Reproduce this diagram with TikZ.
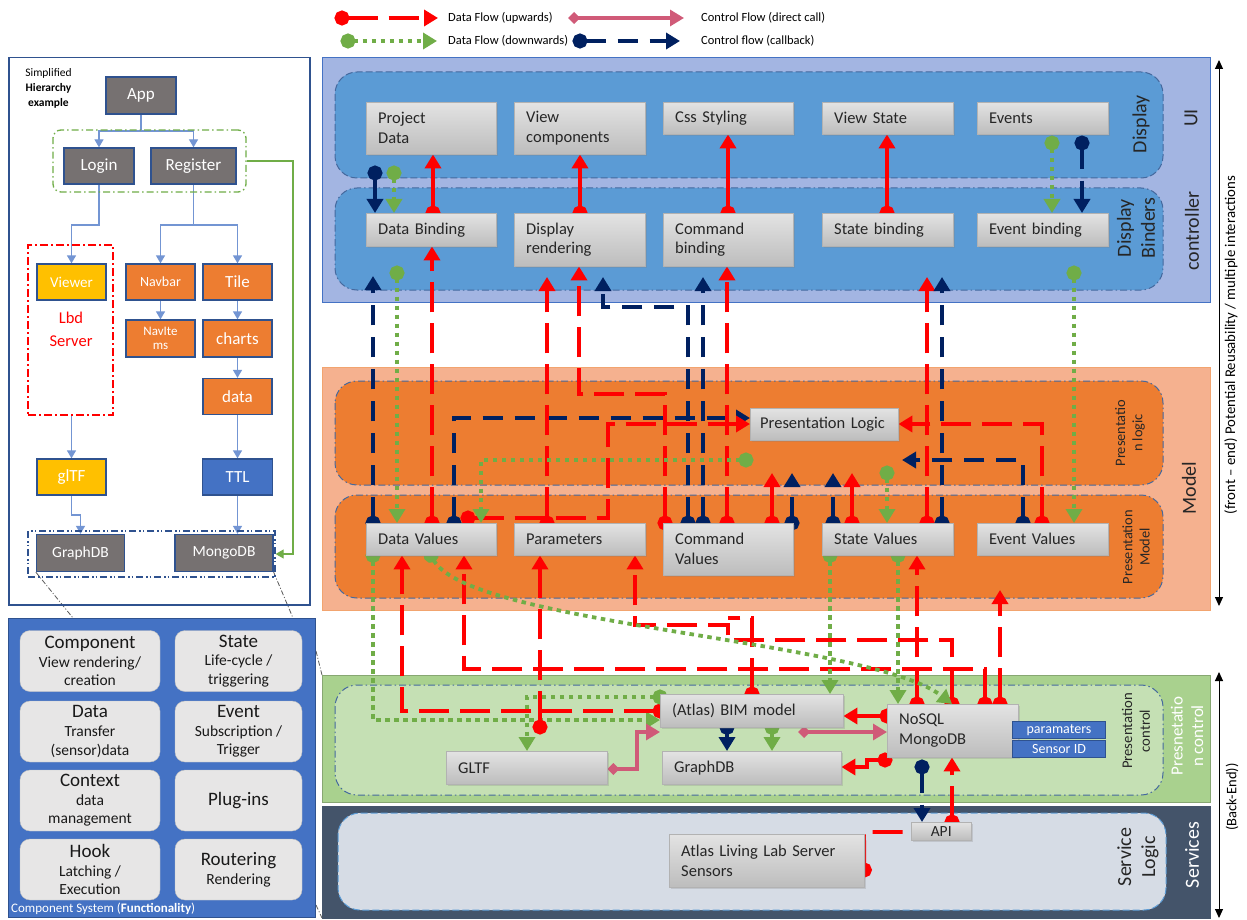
\documentclass[tikz,border=0pt]{standalone}
\usepackage{fontspec}
\setmainfont{Carlito}
\usetikzlibrary{arrows.meta,shadows}
\pgfdeclarelayer{bg}
\pgfdeclarelayer{conn}
\pgfsetlayers{bg,conn,main}
\newcommand{\fsz}[1]{\fontsize{#1pt}{1.2\dimexpr#1pt\relax}\selectfont}
\definecolor{cRed}{HTML}{FF0000}
\definecolor{cNavy}{HTML}{002060}
\definecolor{cGreen}{HTML}{70AD47}
\definecolor{cPink}{HTML}{D05A78}
\definecolor{uiOut}{HTML}{A3B5E2}
\definecolor{uiLane}{HTML}{5B9BD5}
\definecolor{mdOut}{HTML}{F5B18F}
\definecolor{mdLane}{HTML}{ED7D31}
\definecolor{pcOut}{HTML}{A9D18E}
\definecolor{pcIn}{HTML}{C5E0B4}
\definecolor{svOut}{HTML}{44546A}
\definecolor{svIn}{HTML}{D6DCE5}
\definecolor{hBlue}{HTML}{4472C4}
\definecolor{hDark}{HTML}{2F528F}
\definecolor{hGray}{HTML}{767171}
\definecolor{hYellow}{HTML}{FFC000}
\definecolor{csBox}{HTML}{E7E6E6}
\definecolor{laneBorder}{HTML}{45699E}
\begin{document}
\begin{tikzpicture}[x=1pt,y=-1pt,
 fUp/.style={draw=cRed, line width=3.8pt, dash pattern=on 30pt off 11pt, {Circle[length=15pt]}-{Triangle[length=14pt,width=16pt]}, shorten <=-7.5pt},
 fDown/.style={draw=cGreen, line width=3.8pt, dash pattern=on 4.5pt off 4.5pt, {Circle[length=15pt]}-{Triangle[length=14pt,width=16pt]}, shorten <=-7.5pt},
 fCb/.style={draw=cNavy, line width=3.8pt, dash pattern=on 20pt off 12pt, {Circle[length=15pt]}-{Triangle[length=14pt,width=16pt]}, shorten <=-7.5pt},
 fDc/.style={draw=cPink, line width=3.2pt, {Diamond[length=12pt,width=12pt]}-{Triangle[length=14pt,width=16pt]}},
 gbox/.style 2 args={draw=black!30, top color=black!11, bottom color=black!26, anchor=north west, inner xsep=12pt, inner ysep=1pt, text width=#1pt, minimum height=#2pt, align=left, font=\fsz{16.5}, text=black!85, drop shadow={opacity=0.25, shadow xshift=1.5pt, shadow yshift=-1.5pt}},
 hbox/.style={draw=hDark, line width=1.3pt, text=white, inner sep=0pt, align=center},
 csbox/.style={fill=csBox, draw=black!25, rounded corners=10pt, align=center, font=\fsz{15.5}, inner sep=0pt, text=black!90, minimum height=61pt},
 bluetag/.style={fill=hBlue, draw=hDark, line width=1pt, text=white, font=\fsz{14}, minimum width=93pt, minimum height=17pt, inner sep=0pt, anchor=north west},
 laneA/.style={draw=laneBorder, line width=1pt, dash pattern=on 7pt off 3pt, rounded corners=22pt},
 laneB/.style={draw=laneBorder, line width=1pt, dash pattern=on 7pt off 3pt on 1.5pt off 3pt, rounded corners=22pt},
 hline/.style={draw=hBlue!75, line width=1.3pt, -{Triangle[length=8pt,width=9pt]}},
 gline/.style={draw=cGreen, line width=1.1pt, -{Triangle[length=8pt,width=9pt]}},
 zline/.style={draw=black!65, line width=0.8pt, dash pattern=on 5pt off 2pt on 1pt off 2pt},
 axisline/.style={draw=black, line width=1pt, {Triangle[length=9pt,width=8pt]}-{Triangle[length=9pt,width=8pt]}},
 lbl/.style={rotate=90, align=center, inner sep=0pt, text=black!85}
]
\useasboundingbox (0,0) rectangle (1247,920);

% ---------- background layers ----------
\begin{pgfonlayer}{bg}
 \fill[white] (0,0) rectangle (1247,920);
 \draw[draw=hBlue, line width=1pt, fill=uiOut] (322,58) rectangle (1210,302);
 \draw[laneA, fill=uiLane] (335,72) rectangle (1163,178);
 \draw[laneB, fill=uiLane] (335,188) rectangle (1163,290);
 \draw[draw=mdLane!70, line width=1pt, fill=mdOut] (322,367) rectangle (1210,610);
 \draw[laneB, fill=mdLane] (335,381) rectangle (1163,485);
 \draw[laneB, fill=mdLane] (335,495) rectangle (1163,598);
 \draw[draw=pcOut!80!black, line width=1pt, fill=pcOut] (322,675) rectangle (1210,802);
 \draw[laneB, fill=pcIn] (335,685) rectangle (1163,795);
 \draw[draw=svOut, fill=svOut] (322,806) rectangle (1210,918);
 \draw[laneA, draw=uiLane, fill=svIn] (338,813) rectangle (1166,910);
\end{pgfonlayer}

% ---------- legend ----------
\coordinate (lg1a) at (342,18); \coordinate (lg1b) at (438,18);
\coordinate (lg2a) at (348,41); \coordinate (lg2b) at (437,41);
\coordinate (lg3a) at (568,18); \coordinate (lg3b) at (684,18);
\coordinate (lg4a) at (580,41); \coordinate (lg4b) at (680,41);
\draw[fUp] (lg1a) -- (lg1b);
\draw[fDown] (lg2a) -- (lg2b);
\draw[fDc] (lg3a) -- (lg3b);
\draw[fCb] (lg4a) -- (lg4b);
\node[anchor=west, inner sep=0pt, font=\fsz{12.5}] (lt1) at (448,18) {Data Flow (upwards)};
\node[anchor=west, inner sep=0pt, font=\fsz{12.5}] (lt2) at (448,41) {Data Flow (downwards)};
\node[anchor=west, inner sep=0pt, font=\fsz{12.5}] (lt3) at (701,18) {Control Flow (direct call)};
\node[anchor=west, inner sep=0pt, font=\fsz{12.5}] (lt4) at (701,41) {Control flow (callback)};

% ---------- left hierarchy panel ----------
\node[draw=hDark, line width=1.5pt, anchor=north west, minimum width=301pt, minimum height=547pt, inner sep=0pt] (hp) at (8,57) {};
\node[align=center, inner sep=0pt, font=\fontsize{11.5pt}{15pt}\selectfont] (simp) at (48.5,88) {Simplified\\\textbf{Hierarchy}\\\textbf{example}};
\node[draw=cGreen, line width=1.3pt, dash pattern=on 7pt off 3pt on 1.5pt off 3pt, rounded corners=8pt, minimum width=193pt, minimum height=62pt, inner sep=0pt] (grpbox) at (149.5,161) {};
\node[draw=red, line width=1.6pt, dash pattern=on 8pt off 3pt on 2pt off 3pt, minimum width=85pt, minimum height=170pt, inner sep=0pt] (lbd) at (70.5,330) {};
\node[draw=hDark, line width=1.3pt, dash pattern=on 7pt off 3pt on 1.5pt off 2pt on 1.5pt off 3pt, minimum width=247pt, minimum height=46pt, inner sep=0pt] (dbbox) at (151.5,554) {};
\node[hbox, fill=hGray, minimum width=70pt, minimum height=37pt, font=\fsz{17}] (app) at (141,95.5) {App};
\node[hbox, fill=hGray, minimum width=70pt, minimum height=36pt, font=\fsz{17}] (login) at (99,166) {Login};
\node[hbox, fill=hGray, minimum width=85pt, minimum height=36pt, font=\fsz{17}] (register) at (193.5,166) {Register};
\node[hbox, fill=hYellow, minimum width=69pt, minimum height=36pt, font=\fsz{15}] (viewer) at (71.5,282) {Viewer};
\node[text=red, align=center, inner sep=0pt, font=\fontsize{16.5pt}{23pt}\selectfont] (lbdtxt) at (71,329.5) {Lbd\\Server};
\node[hbox, fill=mdLane, minimum width=69pt, minimum height=36pt, font=\fsz{14}] (navbar) at (160.5,282) {Navbar};
\node[hbox, fill=mdLane, minimum width=69pt, minimum height=36pt, font=\fsz{17}] (tile) at (237.5,282) {Tile};
\node[hbox, fill=mdLane, minimum width=69pt, minimum height=37pt, font=\fontsize{13pt}{14pt}\selectfont] (navitems) at (160.5,338.5) {NavIte\\ms};
\node[hbox, fill=mdLane, minimum width=69pt, minimum height=37pt, font=\fsz{17}] (charts) at (237.5,338.5) {charts};
\node[hbox, fill=mdLane, minimum width=69pt, minimum height=36pt, font=\fsz{17}] (data) at (237.5,396.5) {data};
\node[hbox, fill=hYellow, minimum width=69pt, minimum height=36pt, font=\fsz{17}] (gltfh) at (71.5,477) {glTF};
\node[hbox, fill=hBlue, minimum width=70pt, minimum height=36pt, font=\fsz{17}] (ttl) at (237.5,477) {TTL};
\node[hbox, fill=hGray, minimum width=88pt, minimum height=37pt, font=\fsz{15.5}] (graphdbh) at (80.5,553) {GraphDB};
\node[hbox, fill=hGray, minimum width=98pt, minimum height=37pt, font=\fsz{15.5}] (mongodbh) at (224,553) {MongoDB};

% ---------- component system ----------
\node[fill=hBlue, draw=hDark, line width=1pt, anchor=north west, minimum width=307pt, minimum height=299pt, inner sep=0pt] (cs) at (8,618) {};
\node[csbox, minimum width=140pt] (csComp) at (90,661) {{\fsz{19}Component}\\View rendering/\\creation};
\node[csbox, minimum width=127pt] (csState) at (238.5,661) {{\fsz{19}State}\\Life-cycle /\\triggering};
\node[csbox, minimum width=140pt] (csData) at (90,731.5) {{\fsz{19}Data}\\Transfer\\(sensor)data};
\node[csbox, minimum width=127pt] (csEvent) at (238.5,731.5) {{\fsz{19}Event}\\Subscription /\\Trigger};
\node[csbox, minimum width=140pt] (csCtx) at (90,800.5) {{\fsz{19}Context}\\data\\management};
\node[csbox, minimum width=127pt] (csPlug) at (238.5,800.5) {{\fsz{19}Plug-ins}};
\node[csbox, minimum width=140pt] (csHook) at (90,869.5) {{\fsz{19}Hook}\\Latching /\\Execution};
\node[csbox, minimum width=127pt] (csRout) at (238.5,869.5) {{\fsz{19}Routering}\\Rendering};
\node[anchor=west, inner sep=0pt, text=white, font=\fsz{13}] (csfoot) at (11,909) {Component System (\textbf{Functionality})};

% ---------- main boxes ----------
\node[gbox={106}{52}] (pd) at (366,102) {Project\\Data};
\node[gbox={107}{52}] (vc) at (514,102) {View\\components};
\node[gbox={106}{32}] (css) at (663,102) {Css Styling};
\node[gbox={107}{32}] (vs) at (822,102) {View State};
\node[gbox={107}{32}] (ev) at (977,102) {Events};
\node[gbox={106}{33}] (db) at (366,213) {Data Binding};
\node[gbox={107}{53}] (dr) at (514,213) {Display\\rendering};
\node[gbox={106}{53}] (cb) at (663,213) {Command\\binding};
\node[gbox={107}{33}] (sb) at (822,213) {State binding};
\node[gbox={107}{33}] (eb) at (977,213) {Event binding};
\node[gbox={128}{32}, inner xsep=10pt] (pl) at (750,408) {Presentation Logic};
\node[gbox={106}{32}] (dv) at (366,523) {Data Values};
\node[gbox={107}{32}] (par) at (514,523) {Parameters};
\node[gbox={106}{52}] (cv) at (663,523) {Command\\Values};
\node[gbox={107}{32}] (sv) at (822,523) {State Values};
\node[gbox={107}{32}] (evv) at (977,523) {Event Values};
\node[gbox={159}{33}] (bim) at (660,694) {(Atlas) BIM model};
\node[gbox={137}{33}] (gltf) at (446,751) {GLTF};
\node[gbox={155}{33}] (gdb) at (662,751) {GraphDB};
\node[gbox={107}{53}] (nosql) at (887,704) {NoSQL\\MongoDB};
\node[bluetag] (params) at (1012,721) {paramaters};
\node[bluetag] (sensor) at (1012,740) {Sensor ID};
\node[gbox={171}{53}] (atlas) at (669,834) {Atlas Living Lab Server\\Sensors};
\node[gbox={56}{18}, inner xsep=2pt, align=center, font=\fsz{15.5}] (api) at (911,822) {API};

% ---------- lane labels ----------
\node[lbl, font=\fsz{20}] (lDisp) at (1141,124) {Display};
\node[lbl, font=\fsz{20}] (lUI) at (1191,118) {UI};
\node[lbl, font=\fsz{20}] (lBind) at (1136,228) {Display\\Binders};
\node[lbl, font=\fsz{20}] (lCtrl) at (1192,231) {controller};
\node[lbl, font=\fsz{14.4}] (lPL) at (1130,433) {Presentatio\\n logic};
\node[lbl, font=\fsz{14.4}] (lPM) at (1136,547) {Presentation\\Model};
\node[lbl, font=\fsz{20}] (lModel) at (1189,488) {Model};
\node[lbl, font=\fsz{14.7}] (lPC) at (1136,731) {Presentation\\control};
\node[lbl, font=\fsz{17}, text=white] (lPC2) at (1187,736) {Presnetatio\\n control};
\node[lbl, font=\fsz{20}] (lSL) at (1138,857) {Service\\Logic};
\node[lbl, font=\fsz{20}, text=white] (lSrv) at (1192,855) {Services};

% ---------- right axes ----------
\coordinate (fa1) at (1219,60); \coordinate (fa2) at (1219,606);
\coordinate (ba1) at (1219,672); \coordinate (ba2) at (1219,918);
\draw[axisline] (fa1) -- (fa2);
\draw[axisline] (ba1) -- (ba2);
\node[lbl, font=\fsz{14.8}, text=black] (fatxt) at (1231,345) {(front – end) Potential Reusability / multiple interactions};
\node[lbl, font=\fsz{14.5}, text=black] (batxt) at (1232,797) {(Back-End))};

% ---------- connectors ----------
\begin{pgfonlayer}{conn}
 % hierarchy
 \draw[hline] (app.south) -- (141,131) -| (login.north);
 \draw[hline] (141,131) -| (register.north);
 \draw[hline] (login.south) -- (99,225) -| (viewer.north);
 \draw[hline] (register.south) -- (193.5,225) -| (navbar.north);
 \draw[hline] (193.5,225) -| (tile.north);
 \draw[hline] (navbar.south) -- (navitems.north);
 \draw[hline] (tile.south) -- (charts.north);
 \draw[hline] (charts.south) -- (data.north);
 \draw[hline] (data.south) -- (ttl.north);
 \draw[hline] (ttl.south) -- (ttl.south |- mongodbh.north);
 \draw[hline] (lbd.south -| gltfh.north) -- (gltfh.north);
 \draw[hline] (gltfh.south) -- (71.5,515) -| (graphdbh.north);
 \draw[gline] (grpbox.east) -- (293,0 |- grpbox.east) |- (dbbox.east);
 \draw[zline] (graphdbh.south west) -- (cs.north west -| 73,0);
 \draw[zline] (mongodbh.south east) -- (cs.north west -| 293,0);
 \draw[zline] (cs.east |- 0,651) -- (322,675);
 \draw[zline] (cs.east |- 0,905) -- (322,918);

 % Display <-> Binders
 \draw[fCb, solid] (375,173) -- (375,0 |- db.north);
 \draw[fDown] (394,173) -- (394,0 |- db.north);
 \draw[fUp, solid] (433,0 |- db.north) -- (433,0 |- pd.south);
 \draw[fUp, solid] (580,0 |- dr.north) -- (580,0 |- vc.south);
 \draw[fUp, solid] (728,0 |- cb.north) -- (728,0 |- css.south);
 \draw[fUp, solid] (887,0 |- sb.north) -- (887,0 |- vs.south);
 \draw[fDown] (1052,143) -- (1052,0 |- eb.north);
 \draw[fCb] (1082,143) -- (1082,0 |- eb.north);

 % Binders <-> Model
 \draw[fCb] (373,0 |- dv.north) -- (373,276);
 \draw[fDown] (397,273) -- (397,0 |- dv.north);
 \draw[fUp] (432,0 |- dv.north) -- (432,0 |- db.south);
 \draw[fCb] (454,0 |- dv.north) -- (454,418) -- (pl.west |- 0,418);
 \draw[fUp] (468,518) -- (608,518) -- (608,424) -- (pl.west |- 0,424);
 \draw[fUp] (547,0 |- par.north) -- (547,277);
 \draw[fUp] (665,0 |- cv.north) -- (665,394) -- (579,394) -- (579,0 |- dr.south);
 \draw[fCb] (688,0 |- cv.north) -- (688,307) -- (603,307) -- (603,277);
 \draw[fCb] (703,0 |- cv.north) -- (703,277);
 \draw[fUp] (727,0 |- cv.north) -- (727,0 |- cb.south);
 \draw[fUp, solid] (772,0 |- cv.north) -- (772,473);
 \draw[fCb] (792,0 |- cv.north) -- (792,473);
 \draw[fCb] (833,0 |- sv.north) -- (833,473);
 \draw[fUp, solid] (852,0 |- sv.north) -- (852,473);
 \draw[fDown] (887,473) -- (887,0 |- sv.north);
 \draw[fUp] (927,0 |- sv.north) -- (927,277);
 \draw[fCb] (942,0 |- sv.north) -- (942,277);
 \draw[fUp] (1042,0 |- evv.north) -- (1042,424) -- (pl.east |- 0,424);
 \draw[fCb] (1023,0 |- evv.north) -- (1023,460) -- (902,460);
 \draw[fDown] (1074,273) -- (1074,0 |- evv.north);
 \draw[fDown] (746,460) -- (481,460) -- (481,0 |- dv.north);

 % Model <-> Presentation control
 \draw[fDown] (373,0 |- dv.south) -- (373,720) -- (bim.west |- 0,720);
 \draw[fUp] (bim.west |- 0,711) -- (402,711) -- (402,0 |- dv.south);
 \draw[fUp] (985,0 |- nosql.north) -- (985,669) -- (464,669) -- (464,0 |- dv.south);
 \draw[fUp] (540,727) -- (540,0 |- par.south);
 \draw[fUp] (952,0 |- nosql.north) -- (952,640) -- (728,640) -- (728,625) -- (635,625) -- (635,0 |- par.south);
 \draw[fUp, {Circle[length=15pt]}-] (752,0 |- bim.north) -- (752,618) -- (728,618);
 \draw[fUp] (917,0 |- nosql.north) -- (917,0 |- sv.south);
 \draw[fUp] (1000,0 |- nosql.north) -- (1000,590);
 \draw[fDown] (830,0 |- sv.south) -- (830,0 |- bim.north);
 \draw[fDown] (898,0 |- sv.south) -- (898,0 |- nosql.north);
 \draw[fDown] (431,0 |- dv.south) .. controls (470,625) and (870,640) .. (952,0 |- nosql.north);

 % Presentation control internal
 \draw[fDown] (bim.west |- 0,697) -- (527,697) -- (527,0 |- gltf.north);
 \draw[fDc] (gltf.east |- 0,769) -- (637,769) -- (637,732) -- (660,732);
 \draw[fDc] (798,732) -- (nosql.west |- 0,732);
 \draw[fUp, solid] (nosql.west |- 0,716) -- (bim.east |- 0,716);
 \draw[fUp, solid] (885,760) -- (867,760) -- (867,767) -- (gdb.east |- 0,767);
 \draw[fCb, solid] (727,0 |- bim.south) -- (727,0 |- gdb.north);
 \draw[fDown] (772,0 |- bim.south) -- (772,0 |- gdb.north);
 \draw[fCb] (922,767) -- (922,0 |- api.north);
 \draw[fUp] (952,0 |- api.north) -- (952,0 |- nosql.south);
 \draw[fUp, {Circle[length=15pt]}-] (atlas.east |- 0,870) -- (864,832) -- (api.west |- 0,832);
\end{pgfonlayer}
\end{tikzpicture}
\end{document}
